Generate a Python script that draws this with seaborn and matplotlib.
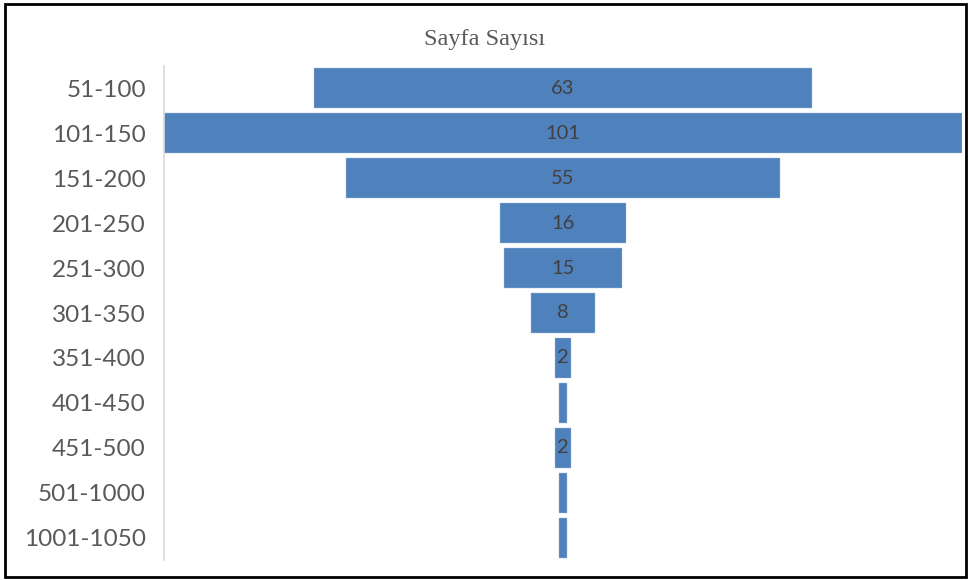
import pandas as pd
import seaborn as sns
import matplotlib.pyplot as plt
from matplotlib.patches import Rectangle

sns.set_style("white")
plt.rcParams["font.family"] = ["Lato", "DejaVu Sans"]

# ---------------------------------------------------------
# Data: page count ranges and number of books
# ---------------------------------------------------------
categories = ["51-100", "101-150", "151-200", "201-250", "251-300", "301-350",
              "351-400", "401-450", "451-500", "501-1000", "1001-1050"]
counts = [63, 101, 55, 16, 15, 8, 2, 1, 2, 1, 1]
df = pd.DataFrame({"range": categories, "count": counts})

# ---------------------------------------------------------
# Funnel chart: horizontal bars centred on zero
# ---------------------------------------------------------
fig = plt.figure(figsize=(9.69, 5.80), dpi=100)
ax = fig.add_axes([164 / 969, 1 - 560 / 580, 798 / 969, 494 / 580])

sns.barplot(data=df, x="count", y="range", color="#4F81BD", saturation=1,
            width=0.89, errorbar=None, ax=ax, edgecolor="#A7BFDE", linewidth=0.3)

for patch in ax.patches:
    patch.set_x(-patch.get_width() / 2)

half = max(counts) / 2
ax.set_xlim(-half, half)

for patch, v in zip(ax.patches, counts):
    if v > 1:
        ax.text(0, patch.get_y() + patch.get_height() / 2, str(v),
                ha="center", va="center", fontsize=14.5, color="#404040")

ax.set_xlabel("")
ax.set_ylabel("")
ax.set_xticks([])
ax.tick_params(axis="y", length=0, pad=13, labelsize=17.5, labelcolor="#595959")
for side in ["top", "right", "bottom"]:
    ax.spines[side].set_visible(False)
ax.spines["left"].set_color("#D9D9D9")
ax.spines["left"].set_linewidth(1.2)

fig.text(0.5, 1 - 40 / 580, "Sayfa Sayısı", ha="center", va="center",
         fontsize=17.5, color="#595959", family=["Liberation Serif", "DejaVu Serif"])

# outer frame
fig.patches.append(Rectangle((5 / 969, 3 / 580), 961 / 969, 573 / 580,
                             transform=fig.transFigure, fill=False,
                             edgecolor="black", linewidth=2))

plt.savefig("out.png", dpi=100)
plt.close()
